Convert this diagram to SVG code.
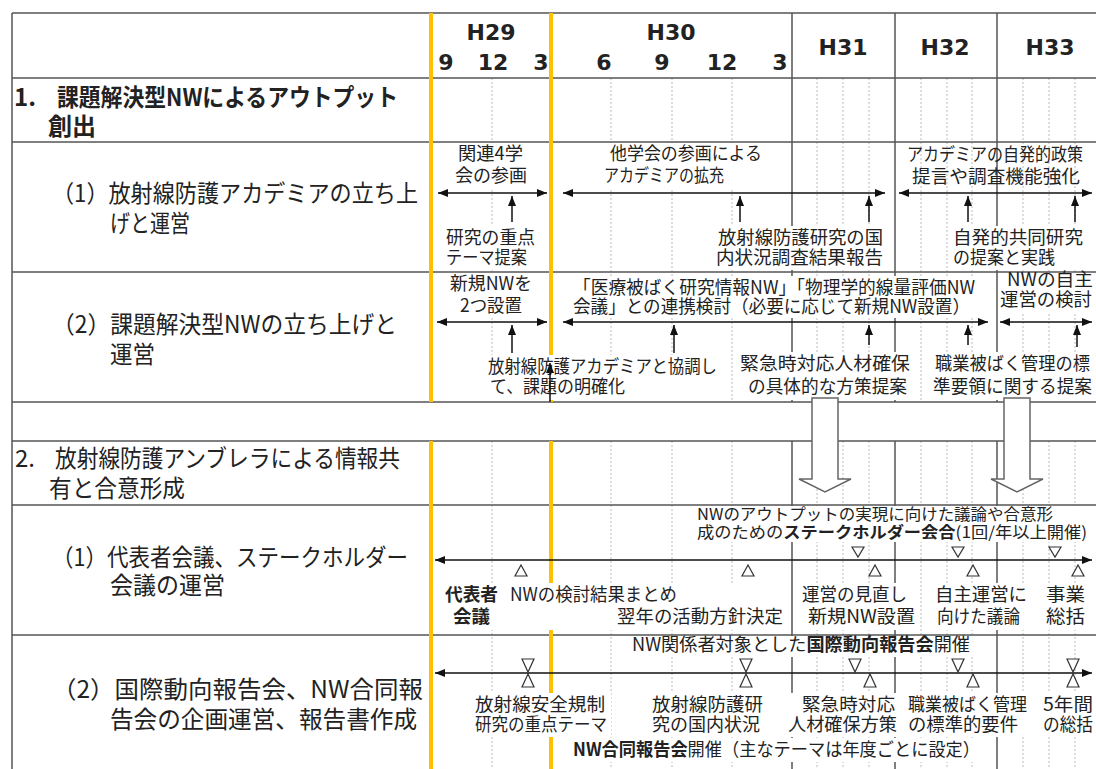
<svg xmlns="http://www.w3.org/2000/svg" width="1096" height="769" viewBox="0 0 1096 769">
<style>
.hl{stroke:#555;stroke-width:1.5}
.vl{stroke:#555;stroke-width:1.5}
.dl{stroke:#bbb;stroke-width:1;stroke-dasharray:2 2}
.yl{stroke:#FFC000;stroke-width:4}
.bx{fill:#fff}
.lb{font-family:"Noto Sans CJK JP","Noto Sans CJK SC",sans-serif;font-size:18px;fill:#222}
.sm{font-size:16px}
.lc{font-family:"Noto Sans CJK JP","Noto Sans CJK SC",sans-serif;font-size:24px;fill:#222}
.hd{font-family:"DejaVu Sans","Liberation Sans",sans-serif;font-size:22px;font-weight:bold;fill:#222;text-anchor:middle}
.b{font-weight:bold}
.ar{stroke:#111;stroke-width:1.5;fill:none}
.tri{fill:#fff;stroke:#333;stroke-width:1.2}
.big{fill:#fff;stroke:#666;stroke-width:1.5}
</style>
<defs>
<marker id="ah" viewBox="0 0 10 8" refX="10" refY="4" markerWidth="10" markerHeight="8" markerUnits="userSpaceOnUse" orient="auto-start-reverse">
<path d="M0,0 L10,4 L0,8 z" fill="#111"/>
</marker>
</defs>
<rect x="0" y="0" width="1096" height="769" fill="#fff"/>

<g id="grid">
<line class="dl" x1="492" y1="78" x2="492" y2="402"/><line class="dl" x1="492" y1="441" x2="492" y2="769"/>
<line class="dl" x1="611" y1="78" x2="611" y2="402"/><line class="dl" x1="611" y1="441" x2="611" y2="769"/>
<line class="dl" x1="672" y1="78" x2="672" y2="402"/><line class="dl" x1="672" y1="441" x2="672" y2="769"/>
<line class="dl" x1="732" y1="78" x2="732" y2="402"/><line class="dl" x1="732" y1="441" x2="732" y2="769"/>
<line class="dl" x1="817" y1="78" x2="817" y2="402"/><line class="dl" x1="817" y1="441" x2="817" y2="769"/>
<line class="dl" x1="843" y1="78" x2="843" y2="402"/><line class="dl" x1="843" y1="441" x2="843" y2="769"/>
<line class="dl" x1="869" y1="78" x2="869" y2="402"/><line class="dl" x1="869" y1="441" x2="869" y2="769"/>
<line class="dl" x1="921" y1="78" x2="921" y2="402"/><line class="dl" x1="921" y1="441" x2="921" y2="769"/>
<line class="dl" x1="947" y1="78" x2="947" y2="402"/><line class="dl" x1="947" y1="441" x2="947" y2="769"/>
<line class="dl" x1="972" y1="78" x2="972" y2="402"/><line class="dl" x1="972" y1="441" x2="972" y2="769"/>
<line class="dl" x1="1023" y1="78" x2="1023" y2="402"/><line class="dl" x1="1023" y1="441" x2="1023" y2="769"/>
<line class="dl" x1="1049" y1="78" x2="1049" y2="402"/><line class="dl" x1="1049" y1="441" x2="1049" y2="769"/>
<line class="dl" x1="1075" y1="78" x2="1075" y2="402"/><line class="dl" x1="1075" y1="441" x2="1075" y2="769"/>
<line class="vl" x1="792" y1="13" x2="792" y2="402"/><line class="vl" x1="792" y1="441" x2="792" y2="769"/>
<line class="vl" x1="895" y1="13" x2="895" y2="402"/><line class="vl" x1="895" y1="441" x2="895" y2="769"/>
<line class="vl" x1="997" y1="13" x2="997" y2="402"/><line class="vl" x1="997" y1="441" x2="997" y2="769"/>
<line class="vl" x1="12" y1="13" x2="12" y2="769"/>
<line class="hl" x1="12" y1="13" x2="1096" y2="13"/>
<line class="hl" x1="12" y1="78" x2="1096" y2="78"/>
<line class="hl" x1="12" y1="142" x2="1096" y2="142"/>
<line class="hl" x1="12" y1="272" x2="1096" y2="272"/>
<line class="hl" x1="12" y1="402" x2="1096" y2="402"/>
<line class="hl" x1="12" y1="441" x2="1096" y2="441"/>
<line class="hl" x1="12" y1="505" x2="1096" y2="505"/>
<line class="hl" x1="12" y1="635" x2="1096" y2="635"/>
<line class="yl" x1="431" y1="13" x2="431" y2="402"/><line class="yl" x1="431" y1="441" x2="431" y2="769"/>
<line class="yl" x1="551" y1="13" x2="551" y2="402"/><line class="yl" x1="551" y1="441" x2="551" y2="769"/>
</g>

<g id="header">
<text class="hd" x="491" y="40">H29</text>
<text class="hd" x="446" y="70">9</text><text class="hd" x="493" y="70">12</text><text class="hd" x="541" y="70">3</text>
<text class="hd" x="671" y="40">H30</text>
<text class="hd" x="604" y="70">6</text><text class="hd" x="662" y="70">9</text><text class="hd" x="722" y="70">12</text><text class="hd" x="780" y="70">3</text>
<text class="hd" x="843" y="55">H31</text>
<text class="hd" x="945" y="55">H32</text>
<text class="hd" x="1050" y="55">H33</text>
</g>

<g id="left-column">
<text class="lc b" x="14" y="106">1.</text>
<text class="lc b" x="57" y="106" textLength="341" lengthAdjust="spacingAndGlyphs">課題解決型NWによるアウトプット</text>
<text class="lc b" x="48" y="135" textLength="48" lengthAdjust="spacingAndGlyphs">創出</text>
<text class="lc" x="52" y="202" textLength="366" lengthAdjust="spacingAndGlyphs">（1）放射線防護アカデミアの立ち上</text>
<text class="lc" x="110" y="232" textLength="80" lengthAdjust="spacingAndGlyphs">げと運営</text>
<text class="lc" x="52" y="333" textLength="345" lengthAdjust="spacingAndGlyphs">（2）課題解決型NWの立ち上げと</text>
<text class="lc" x="110" y="363" textLength="45" lengthAdjust="spacingAndGlyphs">運営</text>
<text class="lc" x="15" y="467">2.</text>
<text class="lc" x="55" y="467" textLength="345" lengthAdjust="spacingAndGlyphs">放射線防護アンブレラによる情報共</text>
<text class="lc" x="49" y="497" textLength="136" lengthAdjust="spacingAndGlyphs">有と合意形成</text>
<text class="lc" x="52" y="566" textLength="356" lengthAdjust="spacingAndGlyphs">（1）代表者会議、ステークホルダー</text>
<text class="lc" x="110" y="594" textLength="115" lengthAdjust="spacingAndGlyphs">会議の運営</text>
<text class="lc" x="52" y="698" textLength="371" lengthAdjust="spacingAndGlyphs">（2）国際動向報告会、NW合同報</text>
<text class="lc" x="110" y="728" textLength="307" lengthAdjust="spacingAndGlyphs">告会の企画運営、報告書作成</text>
</g>

<g id="row-1-1">
<rect class="bx" x="452" y="143" width="78" height="45"/>
<rect class="bx" x="600" y="143" width="166" height="45"/>
<rect class="bx" x="442" y="226" width="98" height="44"/>
<rect class="bx" x="712" y="226" width="176" height="44"/>
<rect class="bx" x="948" y="226" width="140" height="44"/>
<text class="lb" x="458" y="160" textLength="65" lengthAdjust="spacingAndGlyphs">関連4学</text>
<text class="lb" x="455" y="182" textLength="72" lengthAdjust="spacingAndGlyphs">会の参画</text>
<text class="lb" x="610" y="160" textLength="152" lengthAdjust="spacingAndGlyphs">他学会の参画による</text>
<text class="lb" x="604" y="182" textLength="120" lengthAdjust="spacingAndGlyphs">アカデミアの拡充</text>
<text class="lb" x="907" y="161" textLength="176" lengthAdjust="spacingAndGlyphs">アカデミアの自発的政策</text>
<text class="lb" x="912" y="183" textLength="168" lengthAdjust="spacingAndGlyphs">提言や調査機能強化</text>
<text class="lb" x="446" y="244" textLength="89" lengthAdjust="spacingAndGlyphs">研究の重点</text>
<text class="lb" x="446" y="264" textLength="81" lengthAdjust="spacingAndGlyphs">テーマ提案</text>
<text class="lb" x="718" y="244" textLength="165" lengthAdjust="spacingAndGlyphs">放射線防護研究の国</text>
<text class="lb" x="716" y="264" textLength="167" lengthAdjust="spacingAndGlyphs">内状況調査結果報告</text>
<text class="lb" x="953" y="244" textLength="130" lengthAdjust="spacingAndGlyphs">自発的共同研究</text>
<text class="lb" x="953" y="264" textLength="102" lengthAdjust="spacingAndGlyphs">の提案と実践</text>
</g>

<g id="row-1-2">
<rect class="bx" x="446" y="273" width="90" height="43"/>
<rect class="bx" x="568" y="276" width="412" height="42"/>
<rect class="bx" x="1001" y="273" width="95" height="39"/>
<rect class="bx" x="484" y="355" width="238" height="45"/>
<rect class="bx" x="736" y="352" width="178" height="48"/>
<rect class="bx" x="930" y="352" width="164" height="48"/>
<text class="lb" x="450" y="290" textLength="82" lengthAdjust="spacingAndGlyphs">新規NWを</text>
<text class="lb" x="460" y="312" textLength="62" lengthAdjust="spacingAndGlyphs">2つ設置</text>
<text class="lb" x="573" y="294" textLength="402" lengthAdjust="spacingAndGlyphs">「医療被ばく研究情報NW」「物理学的線量評価NW</text>
<text class="lb" x="573" y="313" textLength="397" lengthAdjust="spacingAndGlyphs">会議」との連携検討（必要に応じて新規NW設置）</text>
<text class="lb" x="1007" y="286" textLength="86" lengthAdjust="spacingAndGlyphs">NWの自主</text>
<text class="lb" x="1000" y="306" textLength="92" lengthAdjust="spacingAndGlyphs">運営の検討</text>
<text class="lb" x="488" y="373" textLength="229" lengthAdjust="spacingAndGlyphs">放射線防護アカデミアと協調し</text>
<text class="lb" x="490" y="393" textLength="135" lengthAdjust="spacingAndGlyphs">て、課題の明確化</text>
<text class="lb" x="740" y="370" textLength="170" lengthAdjust="spacingAndGlyphs">緊急時対応人材確保</text>
<text class="lb" x="748" y="393" textLength="159" lengthAdjust="spacingAndGlyphs">の具体的な方策提案</text>
<text class="lb" x="935" y="370" textLength="155" lengthAdjust="spacingAndGlyphs">職業被ばく管理の標</text>
<text class="lb" x="933" y="393" textLength="159" lengthAdjust="spacingAndGlyphs">準要領に関する提案</text>
</g>

<g id="row-2-1">
<rect class="bx" x="692" y="506" width="400" height="36"/>
<rect class="bx" x="442" y="583" width="60" height="47"/>
<rect class="bx" x="506" y="583" width="281" height="47"/>
<rect class="bx" x="798" y="583" width="121" height="47"/>
<rect class="bx" x="931" y="583" width="100" height="47"/>
<rect class="bx" x="1042" y="583" width="47" height="47"/>
<text class="lb sm" x="697" y="520" textLength="356" lengthAdjust="spacingAndGlyphs">NWのアウトプットの実現に向けた議論や合意形</text>
<text class="lb sm" x="697" y="538" textLength="390" lengthAdjust="spacingAndGlyphs">成のための<tspan class="b">ステークホルダー会合</tspan>(1回/年以上開催)</text>
<text class="lb b" x="445" y="601" textLength="53" lengthAdjust="spacingAndGlyphs">代表者</text>
<text class="lb b" x="453" y="623" textLength="37" lengthAdjust="spacingAndGlyphs">会議</text>
<text class="lb" x="510" y="601" textLength="167" lengthAdjust="spacingAndGlyphs">NWの検討結果まとめ</text>
<text class="lb" x="617" y="623" textLength="166" lengthAdjust="spacingAndGlyphs">翌年の活動方針決定</text>
<text class="lb" x="802" y="601" textLength="105" lengthAdjust="spacingAndGlyphs">運営の見直し</text>
<text class="lb" x="808" y="623" textLength="107" lengthAdjust="spacingAndGlyphs">新規NW設置</text>
<text class="lb" x="935" y="601" textLength="92" lengthAdjust="spacingAndGlyphs">自主運営に</text>
<text class="lb" x="937" y="623" textLength="83" lengthAdjust="spacingAndGlyphs">向けた議論</text>
<text class="lb" x="1046" y="601" textLength="39" lengthAdjust="spacingAndGlyphs">事業</text>
<text class="lb" x="1046" y="623" textLength="39" lengthAdjust="spacingAndGlyphs">総括</text>
</g>

<g id="row-2-2">
<rect class="bx" x="627" y="636" width="348" height="21"/>
<rect class="bx" x="471" y="693" width="140" height="44"/>
<rect class="bx" x="648" y="693" width="119" height="44"/>
<rect class="bx" x="784" y="693" width="117" height="44"/>
<rect class="bx" x="904" y="693" width="127" height="44"/>
<rect class="bx" x="1039" y="693" width="55" height="44"/>
<rect class="bx" x="568" y="738" width="417" height="24"/>
<text class="lb" x="632" y="651" textLength="338" lengthAdjust="spacingAndGlyphs">NW関係者対象とした<tspan class="b">国際動向報告会</tspan>開催</text>
<text class="lb" x="475" y="711" textLength="130" lengthAdjust="spacingAndGlyphs">放射線安全規制</text>
<text class="lb" x="475" y="731" textLength="132" lengthAdjust="spacingAndGlyphs">研究の重点テーマ</text>
<text class="lb" x="652" y="711" textLength="111" lengthAdjust="spacingAndGlyphs">放射線防護研</text>
<text class="lb" x="652" y="731" textLength="108" lengthAdjust="spacingAndGlyphs">究の国内状況</text>
<text class="lb" x="802" y="711" textLength="93" lengthAdjust="spacingAndGlyphs">緊急時対応</text>
<text class="lb" x="788" y="731" textLength="109" lengthAdjust="spacingAndGlyphs">人材確保方策</text>
<text class="lb" x="908" y="711" textLength="119" lengthAdjust="spacingAndGlyphs">職業被ばく管理</text>
<text class="lb" x="908" y="731" textLength="110" lengthAdjust="spacingAndGlyphs">の標準的要件</text>
<text class="lb" x="1043" y="711" textLength="50" lengthAdjust="spacingAndGlyphs">5年間</text>
<text class="lb" x="1043" y="731" textLength="50" lengthAdjust="spacingAndGlyphs">の総括</text>
<text class="lb" x="573" y="756" textLength="407" lengthAdjust="spacingAndGlyphs"><tspan class="b">NW合同報告会</tspan>開催（主なテーマは年度ごとに設定）</text>
</g>

<g id="connectors">
<line class="ar" x1="438" y1="193" x2="547" y2="193" marker-start="url(#ah)" marker-end="url(#ah)"/>
<line class="ar" x1="563" y1="193" x2="885" y2="193" marker-start="url(#ah)" marker-end="url(#ah)"/>
<line class="ar" x1="899" y1="193" x2="1092" y2="193" marker-start="url(#ah)" marker-end="url(#ah)"/>
<line class="ar" x1="512" y1="222" x2="512" y2="196" marker-end="url(#ah)"/>
<line class="ar" x1="740" y1="222" x2="740" y2="196" marker-end="url(#ah)"/>
<line class="ar" x1="869" y1="222" x2="869" y2="196" marker-end="url(#ah)"/>
<line class="ar" x1="968" y1="222" x2="968" y2="196" marker-end="url(#ah)"/>
<line class="ar" x1="1075" y1="222" x2="1075" y2="196" marker-end="url(#ah)"/>

<line class="ar" x1="437" y1="322" x2="547" y2="322" marker-start="url(#ah)" marker-end="url(#ah)"/>
<line class="ar" x1="563" y1="322" x2="988" y2="322" marker-start="url(#ah)" marker-end="url(#ah)"/>
<line class="ar" x1="1000" y1="322" x2="1092" y2="322" marker-start="url(#ah)" marker-end="url(#ah)"/>
<line class="ar" x1="512" y1="353" x2="512" y2="325" marker-end="url(#ah)"/>
<line class="ar" x1="674" y1="353" x2="674" y2="325" marker-end="url(#ah)"/>
<line class="ar" x1="869" y1="345" x2="869" y2="325" marker-end="url(#ah)"/>
<line class="ar" x1="968" y1="345" x2="968" y2="325" marker-end="url(#ah)"/>
<line class="ar" x1="1077" y1="347" x2="1077" y2="325" marker-end="url(#ah)"/>
<line class="ar" x1="550" y1="402" x2="550" y2="363" marker-end="url(#ah)"/>

<line class="ar" x1="435" y1="560" x2="1092" y2="560" marker-start="url(#ah)" marker-end="url(#ah)"/>
<polygon class="tri" points="515,576 527,576 521,565"/>
<polygon class="tri" points="742,576 754,576 748,565"/>
<polygon class="tri" points="869,576 881,576 875,565"/>
<polygon class="tri" points="967,576 979,576 973,565"/>
<polygon class="tri" points="1072,576 1084,576 1078,565"/>
<polygon class="tri" points="852,547 864,547 858,557"/>
<polygon class="tri" points="952,547 964,547 958,557"/>
<polygon class="tri" points="1049,547 1061,547 1055,557"/>

<line class="ar" x1="435" y1="673" x2="1092" y2="673" marker-start="url(#ah)" marker-end="url(#ah)"/>
<polygon class="tri" points="522,659 534,659 528,672"/>
<polygon class="tri" points="528,674 522,687 534,687"/>
<polygon class="tri" points="740,659 752,659 746,672"/>
<polygon class="tri" points="746,674 740,687 752,687"/>
<polygon class="tri" points="1067,659 1079,659 1073,672"/>
<polygon class="tri" points="1073,674 1067,687 1079,687"/>
<polygon class="tri" points="849,659 861,659 855,672"/>
<polygon class="tri" points="952,659 964,659 958,672"/>
<polygon class="tri" points="870,674 864,687 876,687"/>
<polygon class="tri" points="973,674 967,687 979,687"/>

<path class="big" d="M812,398 H838 V479 H851 L825,492 L799,479 H812 Z"/>
<path class="big" d="M1004,398 H1030 V479 H1043 L1017,492 L991,479 H1004 Z"/>
</g>
</svg>
